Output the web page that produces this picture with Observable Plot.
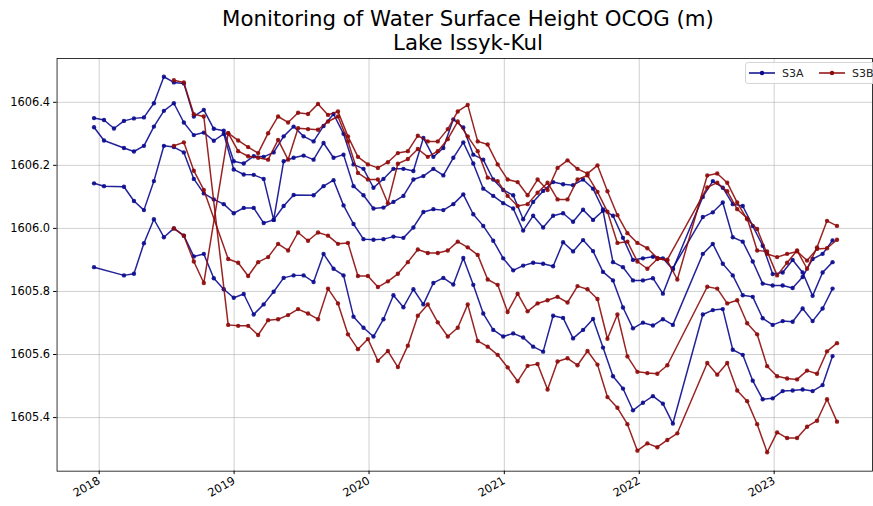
<!DOCTYPE html>
<html>
<head>
<meta charset="utf-8">
<script src="https://cdn.jsdelivr.net/npm/d3@7"></script>
<script src="https://cdn.jsdelivr.net/npm/@observablehq/plot@0.6"></script>
<style>
  html, body { margin: 0; padding: 0; background: #fff; overflow: hidden; }
  body { width: 873px; height: 506px; position: relative; overflow: hidden; font-family: "DejaVu Sans", sans-serif; }
  #title { position: absolute; top: 7px; left: 468px; transform: translateX(-50%); text-align: center; font-size: 21.3px; line-height: 24px; color: #000; white-space: nowrap; }
  #chart { position: absolute; top: 56px; left: 0; }
  #legend { position: absolute; left: 745px; top: 62px; width: 132px; height: 20px; border: 1px solid #d5d5d5; border-radius: 3px; background: rgba(255,255,255,0.85); font-size: 11px; }
  #legend svg { position: absolute; left: 0; top: 0; }
</style>
</head>
<body>
<div id="title">Monitoring of Water Surface Height OCOG (m)<br>Lake Issyk-Kul</div>
<div id="chart"></div>
<div id="legend"></div>
<script>
// ---- tick labels ----
const xTickLabels = ["2018", "2019", "2020", "2021", "2022", "2023"];
const yTickValues = [1605.4, 1605.6, 1605.8, 1606.0, 1606.2, 1606.4];

// ---- S3A cycle dates (27-day repeat) ----
const s3aDates = [
"2017-12-18","2018-01-14","2018-02-10","2018-03-09","2018-04-05","2018-05-02","2018-05-29","2018-06-25","2018-07-22","2018-08-18",
"2018-09-14","2018-10-11","2018-11-07","2018-12-04","2018-12-31","2019-01-27","2019-02-23","2019-03-22","2019-04-18","2019-05-15",
"2019-06-11","2019-07-08","2019-08-04","2019-08-31","2019-09-27","2019-10-24","2019-11-20","2019-12-17","2020-01-13","2020-02-09",
"2020-03-07","2020-04-03","2020-04-30","2020-05-27","2020-06-23","2020-07-20","2020-08-16","2020-09-12","2020-10-09","2020-11-05",
"2020-12-02","2020-12-29","2021-01-25","2021-02-21","2021-03-20","2021-04-16","2021-05-13","2021-06-09","2021-07-06","2021-08-02",
"2021-08-29","2021-09-25","2021-10-22","2021-11-18","2021-12-15","2022-01-11","2022-02-07","2022-03-06","2022-04-02","2022-04-29",
"2022-05-26","2022-06-22","2022-07-19","2022-08-15","2022-09-11","2022-10-08","2022-11-04","2022-12-01","2022-12-28","2023-01-24",
"2023-02-20","2023-03-19","2023-04-15","2023-05-12","2023-06-08"];

const s3aTrack1 = [
1606.350,1606.344,1606.317,1606.341,1606.349,1606.352,1606.397,1606.481,1606.463,1606.460,
1606.355,1606.376,1606.316,1606.310,1606.213,1606.206,1606.229,1606.227,1606.241,1606.292,
1606.323,1606.292,1606.276,1606.325,1606.363,1606.300,1606.203,1606.189,1606.129,1606.157,
1606.189,1606.189,1606.182,1606.287,1606.227,1606.255,1606.346,1606.320,1606.234,1606.218,
1606.155,1606.122,1606.105,1606.029,1606.084,1606.119,1606.147,1606.140,1606.137,1606.155,
1606.126,1606.060,1606.040,1605.970,1605.900,1605.905,1605.910,1605.905,1605.870,null,
null,1606.100,1606.150,1606.129,1606.077,1606.071,1606.008,1605.945,1605.855,1605.860,
1605.900,1605.860,1605.786,1605.860,1605.893];

const s3aTrack2 = [
1606.321,1606.279,null,1606.255,1606.244,1606.262,1606.323,1606.373,1606.397,1606.336,
1606.296,1606.304,1606.278,1606.300,1606.187,1606.171,1606.170,1606.157,1606.027,1606.213,
1606.224,1606.231,1606.218,1606.271,1606.224,1606.234,1606.134,1606.105,1606.063,1606.066,
1606.084,1606.103,1606.155,1606.166,1606.189,1606.168,1606.224,1606.273,1606.206,1606.126,
1606.103,1606.080,1606.063,1605.993,1606.040,1606.003,1606.040,1606.048,1606.021,1606.059,
1606.027,1606.056,1605.893,1605.877,1605.835,1605.835,1605.842,1605.793,1605.874,null,
null,1606.036,1606.051,1606.082,1605.972,1605.958,1605.895,1605.825,1605.819,1605.819,
1605.811,1605.846,1605.903,1605.919,1605.962];

const s3aTrack3 = [
1606.143,1606.134,null,1606.132,1606.087,1606.058,1606.150,1606.262,1606.258,1606.241,
1606.157,1606.111,1606.092,1606.077,1606.048,1606.065,1606.065,1606.017,1606.027,1606.071,
1606.106,null,1606.105,1606.134,1606.153,1606.073,1606.014,1605.966,1605.964,1605.966,
1605.974,1605.970,1606.003,1606.052,1606.061,1606.058,1606.077,1606.108,1606.045,1606.008,
1605.961,1605.905,1605.867,1605.882,1605.891,1605.888,1605.880,1605.956,1605.927,1605.963,
1605.928,1605.862,1605.835,1605.749,1605.683,1605.701,1605.692,1605.712,1605.694,null,
null,1605.919,1605.951,1605.888,1605.851,1605.788,1605.783,1605.715,1605.694,1605.706,
1605.704,1605.746,1605.706,1605.746,1605.809];

const s3aTrack4 = [
1605.877,null,null,1605.851,1605.856,1605.953,1606.029,1605.972,1606.000,1605.977,
1605.911,1605.919,1605.842,1605.807,1605.780,1605.792,1605.727,1605.759,1605.799,1605.843,
1605.851,1605.851,1605.830,1605.919,1605.872,1605.851,1605.720,1605.685,1605.657,1605.712,
1605.788,1605.750,1605.807,1605.759,1605.827,1605.843,1605.822,1605.906,1605.821,1605.730,
1605.678,1605.657,1605.667,1605.654,1605.625,1605.609,1605.723,1605.716,1605.651,1605.678,
1605.713,1605.622,1605.531,1605.492,1605.423,1605.447,1605.468,1605.444,1605.381,null,
null,1605.727,1605.741,1605.744,1605.615,1605.599,1605.517,1605.458,1605.461,1605.484,
1605.486,1605.489,1605.484,1605.503,1605.595];

// ---- S3B dates (4 tandem-phase passes, then 27-day cycles) ----
const s3bDates = [
"2018-07-22","2018-08-18","2018-09-14","2018-10-11",
"2018-12-16","2019-01-12","2019-02-08","2019-03-07","2019-04-03","2019-04-30","2019-05-27","2019-06-23","2019-07-20","2019-08-16",
"2019-09-12","2019-10-09","2019-11-05","2019-12-02","2019-12-29","2020-01-25","2020-02-21","2020-03-19","2020-04-15","2020-05-12",
"2020-06-08","2020-07-05","2020-08-01","2020-08-28","2020-09-24","2020-10-21","2020-11-17","2020-12-14","2021-01-10","2021-02-06",
"2021-03-05","2021-04-01","2021-04-28","2021-05-25","2021-06-21","2021-07-18","2021-08-14","2021-09-10","2021-10-07","2021-11-03",
"2021-11-30","2021-12-27","2022-01-23","2022-02-19","2022-03-18","2022-04-14","2022-05-11","2022-06-07","2022-07-04","2022-07-31",
"2022-08-27","2022-09-23","2022-10-20","2022-11-16","2022-12-13","2023-01-09","2023-02-05","2023-03-04","2023-03-31","2023-04-27",
"2023-05-24","2023-06-20"];

const s3bTrack1 = [
1606.470,1606.463,1606.362,1606.355,
1605.694,1605.691,1605.691,1605.662,1605.709,1605.712,1605.725,1605.744,1605.730,1605.712,
1605.809,1605.762,1605.664,1605.617,1605.649,1605.580,1605.611,1605.560,1605.628,1605.723,
1605.759,1605.702,1605.657,1605.685,1605.759,1605.643,1605.625,1605.599,1605.559,1605.515,
1605.564,1605.570,1605.489,1605.578,1605.588,1605.566,1605.611,1605.568,1605.465,1605.431,
1605.379,1605.295,1605.318,1605.306,1605.329,1605.350,null,null,1605.573,1605.536,
1605.573,1605.486,1605.452,1605.379,1605.290,1605.353,1605.335,1605.335,1605.371,1605.390,
1605.458,1605.387];

const s3bTrack2 = [
1606.262,1606.273,1606.183,1606.122,
1605.903,1605.891,1605.849,1605.893,1605.909,1605.951,1605.930,1605.987,1605.961,1605.987,
1605.977,1605.951,1605.954,1605.849,1605.849,1605.814,1605.832,1605.856,1605.893,1605.933,
1605.922,1605.922,1605.930,1605.958,1605.940,1605.916,1605.838,1605.821,1605.735,1605.793,
1605.737,1605.762,1605.772,1605.783,1605.765,1605.817,1605.807,1605.776,1605.650,1605.727,
1605.594,1605.545,1605.541,1605.539,1605.566,null,null,null,1605.815,1605.809,
1605.762,1605.772,1605.699,1605.664,1605.563,1605.531,1605.524,1605.521,1605.549,1605.539,
1605.610,1605.636];

const s3bTrack3 = [
1606.000,1605.977,1605.895,1605.827,
1606.302,1606.245,1606.229,1606.224,1606.218,1606.281,1606.218,1606.318,1606.315,1606.313,
1606.339,1606.355,1606.276,1606.176,1606.155,1606.155,1606.080,1606.205,1606.220,1606.252,
1606.227,1606.245,1606.283,1606.339,1606.292,1606.245,1606.161,1606.150,1606.103,1606.071,
1606.077,1606.113,1606.145,1606.092,1606.092,1606.155,1606.168,1606.116,1606.053,1605.954,
1605.958,1605.895,1605.872,1605.903,1605.901,null,null,null,1606.130,1606.145,
1606.118,1606.061,1606.032,1605.930,1605.927,1605.851,1605.891,1605.930,1605.872,1605.940,
1606.024,1606.008];

const s3bTrack4 = [
null,null,null,null,
1606.302,1606.279,1606.258,1606.239,1606.302,1606.355,1606.336,1606.367,1606.363,1606.395,
1606.360,1606.371,1606.292,1606.227,1606.203,1606.192,1606.210,1606.239,1606.245,1606.294,
1606.276,1606.276,1606.315,1606.371,1606.392,1606.276,1606.266,1606.203,1606.155,1606.147,
1606.105,1606.155,1606.122,1606.192,1606.216,1606.189,1606.174,1606.200,1606.118,1606.042,
1605.985,1605.954,1605.937,1605.906,1605.898,1605.838,null,null,1606.168,1606.174,
1606.145,1606.082,1606.029,1605.998,1605.919,1605.909,1605.919,1605.927,1605.898,1605.935,
1605.937,1605.964];

const seriesNames = ["S3A", "S3B"];
const seriesColors = ["#0a0a8f", "#8e0a0a"];

// ---- build rows ----
const parse = d3.utcParse("%Y-%m-%d");
function rowsFor(sat, dates, tracks) {
  const out = [];
  tracks.forEach((vals, ti) => {
    vals.forEach((v, i) => {
      if (v != null) out.push({date: parse(dates[i]), value: v, sat, track: sat + "-" + ti});
    });
  });
  return out;
}
const rowsA = rowsFor("S3A", s3aDates, [s3aTrack1, s3aTrack2, s3aTrack3, s3aTrack4]);
const rowsB = rowsFor("S3B", s3bDates, [s3bTrack1, s3bTrack2, s3bTrack3, s3bTrack4]);
const xTicks = xTickLabels.map(y => parse(y + "-01-01"));

const chart = Plot.plot({
  width: 880,
  height: 450,
  marginLeft: 57,
  marginRight: 1,
  marginTop: 2,
  marginBottom: 32,
  style: {fontFamily: "DejaVu Sans, sans-serif", fontSize: "11.5px", color: "#000", background: "#fff"},
  x: {type: "utc", domain: [parse("2017-09-09"), parse("2023-09-24")]},
  y: {domain: [1605.230, 1606.539]},
  color: {domain: seriesNames, range: seriesColors},
  marks: [
    Plot.gridX(xTicks, {stroke: "#b0b0b0", strokeOpacity: 0.75, strokeWidth: 0.8}),
    Plot.gridY(yTickValues, {stroke: "#b0b0b0", strokeOpacity: 0.75, strokeWidth: 0.8}),
    Plot.axisY(yTickValues, {tickFormat: d => d.toFixed(1), tickSize: 3.5, tickPadding: 3.5, label: null, fontSize: 11.5}),
    Plot.axisX(xTicks, {tickFormat: d3.utcFormat("%Y"), tickSize: 3.5, tickPadding: 5, tickRotate: -30, label: null, fontSize: 11.5}),
    Plot.line(rowsA, {x: "date", y: "value", z: "track", stroke: seriesColors[0], strokeWidth: 1.5, strokeOpacity: 0.9}),
    Plot.dot(rowsA, {x: "date", y: "value", r: 2.2, fill: seriesColors[0], fillOpacity: 0.9, stroke: "none"}),
    Plot.line(rowsB, {x: "date", y: "value", z: "track", stroke: seriesColors[1], strokeWidth: 1.5, strokeOpacity: 0.9}),
    Plot.dot(rowsB, {x: "date", y: "value", r: 2.2, fill: seriesColors[1], fillOpacity: 0.9, stroke: "none"}),
    Plot.frame({stroke: "#000", strokeWidth: 0.8})
  ]
});
document.getElementById("chart").appendChild(chart);

// ---- legend ----
const leg = d3.select("#legend").append("svg").attr("width", 132).attr("height", 20);
seriesNames.forEach((name, i) => {
  const g = leg.append("g").attr("transform", `translate(${3 + i * 70},10)`);
  g.append("line").attr("x1", 0).attr("x2", 26).attr("y1", 0).attr("y2", 0)
    .attr("stroke", seriesColors[i]).attr("stroke-width", 1.5);
  g.append("circle").attr("cx", 13).attr("cy", 0).attr("r", 2.2).attr("fill", seriesColors[i]);
  g.append("text").attr("x", 33).attr("y", 4).attr("font-size", 11).attr("font-family", "DejaVu Sans, sans-serif")
    .attr("fill", "#222").text(name);
});
</script>
</body>
</html>
